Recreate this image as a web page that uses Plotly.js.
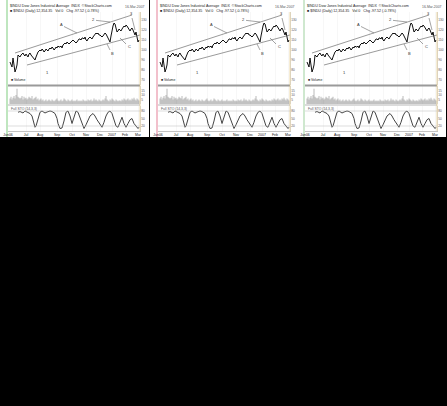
<!DOCTYPE html>
<html><head><meta charset="utf-8">
<script src="https://cdn.plot.ly/plotly-3.0.1.min.js"></script>
<style>html,body{margin:0;padding:0;background:#000}#c{width:447px;height:406px}</style>
</head><body><div id="c"></div>
<script>
// ---- data ----
const prices = [
 88,86,83,92,84,78,81,85,95,94,
 93,95,96,97,95,94,96,95,93,96,
 97,95,94,93,91,90,93,97,98,99,
 100,99,101,100,98,99,101,100,99,101,
 102,101,103,102,100,101,103,102,104,103,
 103,104,102,105,106,107,106,108,107,106,
 107,108,109,110,109,108,107,108,110,111,
 111,110,112,112,111,113,110,109,111,112,
 113,112,111,113,114,115,117,116,117,115,
 115,114,113,114,116,117,116,114,112,110,
 108,114,120,124,127,126,122,118,119,121,
 120,119,121,123,124,123,125,124,122,120,
 119,121,122,120,117,115,118,113,108,110];
const volumes = [
 6,8,5,7,9,6,10,17,8,7,
 6,7,9,5,8,6,7,5,6,8,
 7,6,9,5,6,7,8,5,6,4,
 5,6,4,5,3,4,5,3,4,5,
 4,3,5,4,3,4,5,6,4,3,
 4,5,3,4,6,5,4,3,5,4,
 3,4,5,3,4,3,4,5,3,4,
 3,4,3,5,4,3,4,3,5,4,
 4,5,3,4,6,4,5,4,3,5,
 4,3,4,5,4,6,9,5,4,3,
 5,4,6,5,4,3,5,4,3,4,
 4,3,5,4,6,5,4,5,6,4,
 5,4,6,5,7,5,4,6,5,4];
const oscDay = [8,10,13,15,18,20,22,23,25,26,28,30,32,35,37,40,42,45,47,48,50,52,54,56,58,60,62,64,66,68,70,72,74,76,78,80,83,85,87,90,92,94,96,98,100,102,104,106,108,110,112,114,116,118,120,122,124,126,128,129];
const oscVal = [75,78,72,80,74,70,60,40,15,20,50,75,80,72,76,80,78,70,50,30,10,12,40,75,80,60,30,55,80,75,55,30,10,25,45,60,70,60,45,25,15,35,60,75,80,70,45,20,15,35,55,30,15,30,45,50,30,20,10,15];
const upperChannel = {day:[5,122], price:[97,135]};
const lowerChannel = {day:[17,130], price:[85,115]};
const markDay   = [23, 67, 100, 97, 110, 125];
const markPrice = [90, 117, 128, 106, 112, 120];
const markText  = ["1", "A", "2", "B", "C", "3"];
const tickDays  = [-2, 16, 30, 47, 62, 76, 90, 102, 115, 128];
const tickText  = ["Jun06","Jul","Aug","Sep","Oct","Nov","Dec","2007","Feb","Mar"];
const priceTicks = [70, 80, 90, 100, 110, 120, 130];
const titleLine1 = "$INDU Dow Jones Industrial Average  INDX  ©StockCharts.com";
const titleLine2 = "■ $INDU (Daily) 12,354.35   Vol 0   Chg -97.52 (-0.78%)";
const sideText = "Full STO (14,3,3)";

// ---- layout ----
const W = 447, H = 406;
const offsets = [0, 150, 297];
const stripColors = ['#bfe6bf', '#f2c0cc', '#cfe8cf'];
const X = p => p / W, Y = p => 1 - p / H;
const days = prices.map((_, i) => i);
const traces = [], shapes = [], annotations = [];
const layout = {
  width: W, height: H, margin: {l:0, r:0, t:0, b:0},
  paper_bgcolor: '#000', plot_bgcolor: 'rgba(0,0,0,0)',
  showlegend: false, bargap: 0.55,
  font: {family: 'Liberation Sans, Arial, sans-serif', size: 4, color: '#333'}
};
const ax = [[14,13],[-16,-8],[-17,-2],[5,10],[9,9],[-4,-16]];

offsets.forEach((off, p) => {
  const xa = 'xaxis' + (p + 1), xr = 'x' + (p + 1);
  const yP = 3 * p + 1, yV = 3 * p + 2, yO = 3 * p + 3;
  const xd = [X(off + 8), X(off + 140)];
  layout[xa] = {domain: xd, range: [-2, 130], anchor: 'y' + yO, tickvals: tickDays, ticktext: tickText,
    tickfont: {size: 3.5, color: '#222'}, ticks: '', showgrid: true, gridcolor: '#f0f0f0', gridwidth: 0.5,
    zeroline: false, showline: true, linecolor: '#888', linewidth: 0.5, fixedrange: true};
  const yBase = {anchor: xr, side: 'right', zeroline: false, showgrid: false, ticks: '',
    tickfont: {size: 3.2, color: '#555'}, showline: true, linecolor: '#bbb', linewidth: 0.5};
  layout['yaxis' + yP] = Object.assign({}, yBase, {domain: [Y(85), Y(12)], range: [65, 138], tickvals: priceTicks});
  layout['yaxis' + yV] = Object.assign({}, yBase, {domain: [Y(104), Y(86)], range: [0, 20], tickvals: [5, 10, 15]});
  layout['yaxis' + yO] = Object.assign({}, yBase, {domain: [Y(131), Y(106)], range: [0, 100], tickvals: [20, 50, 80]});

  shapes.push({type:'rect', xref:'paper', yref:'paper', x0:X(off), x1:X(off + 149), y0:Y(137), y1:Y(0),
    fillcolor:'#fff', line:{width:0}, layer:'below'});
  shapes.push({type:'rect', xref:'paper', yref:'paper', x0:X(off + 6), x1:X(off + 8), y0:Y(137), y1:Y(0),
    fillcolor:stripColors[p], line:{width:0}, layer:'below'});
  shapes.push({type:'line', xref:'paper', yref:'paper', x0:X(off + 8), x1:X(off + 140), y0:Y(85.5), y1:Y(85.5),
    line:{color:'#9a9a9a', width:2}});
  shapes.push({type:'line', xref:'paper', yref:'paper', x0:X(off + 8), x1:X(off + 140), y0:Y(105), y1:Y(105),
    line:{color:'#999', width:0.7}});
  shapes.push({type:'line', xref:'paper', yref:'paper', x0:X(off + 140), x1:X(off + 140), y0:Y(131), y1:Y(12),
    line:{color:'#e0c070', width:0.6}});

  traces.push({x: days, y: prices, xaxis: xr, yaxis: 'y' + yP, type: 'scatter', mode: 'lines',
    line: {color: '#111', width: 1.0}, hoverinfo: 'skip'});
  traces.push({x: upperChannel.day, y: upperChannel.price, xaxis: xr, yaxis: 'y' + yP, type: 'scatter', mode: 'lines',
    line: {color: '#555', width: 0.6}, hoverinfo: 'skip'});
  traces.push({x: lowerChannel.day, y: lowerChannel.price, xaxis: xr, yaxis: 'y' + yP, type: 'scatter', mode: 'lines',
    line: {color: '#555', width: 0.6}, hoverinfo: 'skip'});
  traces.push({x: days, y: volumes, xaxis: xr, yaxis: 'y' + yV, type: 'bar',
    marker: {color: '#666', line: {width: 0}}, hoverinfo: 'skip'});
  traces.push({x: oscDay, y: oscVal, xaxis: xr, yaxis: 'y' + yO, type: 'scatter', mode: 'lines',
    line: {color: '#444', width: 1.0}, hoverinfo: 'skip'});
  [20, 80].forEach(v => shapes.push({type:'line', xref: xr, yref: 'y' + yO, x0:-2, x1:130, y0:v, y1:v,
    line:{color:'#bbb', width:0.5}}));

  markDay.forEach((d, i) => annotations.push({x: d, y: markPrice[i], xref: xr, yref: 'y' + yP,
    text: markText[i], showarrow: true, arrowhead: 0, arrowwidth: 0.6, arrowcolor: '#666',
    ax: ax[i][0], ay: ax[i][1], font: {size: 4, color: '#333'}}));

  annotations.push({xref:'paper', yref:'paper', x:X(off + 8), y:Y(2), xanchor:'left', yanchor:'top',
    text: titleLine1, showarrow:false, font:{size:3.6, color:'#222'}});
  annotations.push({xref:'paper', yref:'paper', x:X(off + 8), y:Y(6.5), xanchor:'left', yanchor:'top',
    text: titleLine2, showarrow:false, font:{size:3.6, color:'#222'}});
  annotations.push({xref:'paper', yref:'paper', x:X(off + 147), y:Y(3), xanchor:'right', yanchor:'top',
    text: '16-Mar-2007', showarrow:false, font:{size:3.4, color:'#555'}});
  annotations.push({xref:'paper', yref:'paper', x:X(off + 9), y:Y(84), xanchor:'left', yanchor:'bottom',
    text: '■ Volume', showarrow:false, font:{size:3.4, color:'#222'}});
  annotations.push({xref:'paper', yref:'paper', x:X(off + 9), y:Y(105), xanchor:'left', yanchor:'top',
    text: sideText, showarrow:false, font:{size:3.4, color:'#555'}});
});
layout.shapes = shapes;
layout.annotations = annotations;
Plotly.newPlot('c', traces, layout, {staticPlot: true});
</script></body></html>
